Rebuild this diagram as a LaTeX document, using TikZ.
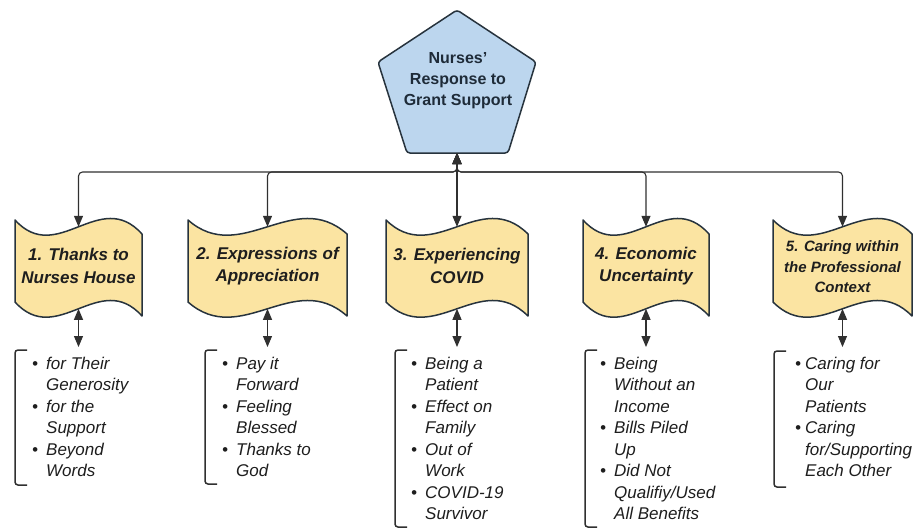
\documentclass[tikz,border=0pt]{standalone}
\usepackage{fontspec}
\setmainfont{Liberation Sans}
\usetikzlibrary{arrows.meta}
\definecolor{penfill}{HTML}{BCD6EE}
\definecolor{edgec}{HTML}{27333D}
\definecolor{tapefill}{HTML}{FBE4A2}
\definecolor{linec}{HTML}{303030}
\definecolor{txt}{HTML}{1E1E1E}
\definecolor{pentxt}{HTML}{1E2B38}
\newlength\bulw
\newcommand\bul{\makebox[\bulw][l]{•}}
\newcommand\tapebox[3]{%
  \filldraw[tape] ({#2},220) .. controls ({#2+#3/3},266.5) and ({#2+2*#3/3},186.9) .. ({#2+#3},234)
    -- ({#2+#3},316) .. controls ({#2+2*#3/3},268.9) and ({#2+#3/3},348.5) .. ({#2},302) -- cycle;
  \coordinate (#1top) at ({#2+#3/2},226.8);
  \coordinate (#1bot) at ({#2+#3/2},308.8);
}
\newcommand\brk[3]{\draw[bracketline] ({#1+12},#2) -- (#1,#2) -- (#1,#3) -- ({#1+12},#3);}
\tikzset{
  pent/.style={draw=edgec, fill=penfill, line width=1.5pt, rounded corners=3pt, line join=round},
  tape/.style={draw=edgec, fill=tapefill, line width=1.5pt, line join=round},
  conn/.style={draw=linec, line width=1.1pt, rounded corners=4pt,
    arrows={Triangle[length=11pt,width=9pt]-Triangle[length=11pt,width=9pt]}},
  bracketline/.style={draw=linec, line width=1.5pt, rounded corners=3pt},
  pentlabel/.style={font=\fontsize{16}{21}\selectfont\bfseries, text=pentxt, align=center, inner sep=0pt},
  boxlabel/.style={font=\fontsize{17}{22.5}\selectfont\bfseries\itshape, text=txt, align=center, inner sep=0pt},
  smallboxlabel/.style={font=\fontsize{15}{20.5}\selectfont\bfseries\itshape, text=txt, align=center, inner sep=0pt},
  listtext/.style={font=\fontsize{17}{21.5}\selectfont\itshape, text=txt, inner sep=0pt, anchor=base west},
}
\begin{document}
\begin{tikzpicture}[x=1pt,y=-1pt]
\useasboundingbox (0,0) rectangle (914,528);
\fill[white] (0,0) rectangle (914,528);

% central pentagon
\filldraw[pent] (457,10) -- (536,62) -- (508,153) -- (407,153) -- (378,62) -- cycle;
\node[pentlabel] (P) at (458,81) {Nurses'\\Response to\\Grant Support};
\coordinate (Pbot) at (457,153);
\coordinate (hub) at (457,172);

% tape boxes
\tapebox{B1}{15}{127}
\tapebox{B2}{188}{159}
\tapebox{B3}{386}{142}
\tapebox{B4}{583}{126}
\tapebox{B5}{773}{139}

\node[boxlabel] (L1) at (78.5,266) {1. Thanks to\\Nurses House};
\node[boxlabel] (L2) at (267.5,266) {2. Expressions of\\Appreciation};
\node[boxlabel] (L3) at (457,266) {3. Experiencing\\COVID};
\node[boxlabel] (L4) at (646,266) {4. Economic\\Uncertainty};
\node[smallboxlabel] (L5) at (842.5,267) {5. Caring within\\the Professional\\Context};

% top connectors
\draw[conn] (Pbot) -- (hub) -| (B1top);
\draw[conn] (Pbot) -- (hub) -| (B2top);
\draw[conn] (Pbot) -- (B3top);
\draw[conn] (Pbot) -- (hub) -| (B4top);
\draw[conn] (Pbot) -- (hub) -| (B5top);

% lower connectors
\coordinate (T1) at (78.5,347);
\coordinate (T2) at (267.5,347);
\coordinate (T3) at (457,347);
\coordinate (T4) at (646,347);
\coordinate (T5) at (842.5,347);
\draw[conn] (B1bot) -- (T1);
\draw[conn] (B2bot) -- (T2);
\draw[conn] (B3bot) -- (T3);
\draw[conn] (B4bot) -- (T4);
\draw[conn] (B5bot) -- (T5);

% brackets
\brk{15}{350}{485}
\brk{205}{350}{484}
\brk{395}{350}{527}
\brk{585}{350}{527}
\brk{774}{351}{487}

% lists
\setlength\bulw{14pt}
\node[listtext] (N1) at (32,369) {\begin{tabular}[t]{@{}l@{}l@{}}
\bul & for Their\\ & Generosity\\ \bul & for the\\ & Support\\ \bul & Beyond\\ & Words\end{tabular}};
\node[listtext] (N2) at (222,369) {\begin{tabular}[t]{@{}l@{}l@{}}
\bul & Pay it\\ & Forward\\ \bul & Feeling\\ & Blessed\\ \bul & Thanks to\\ & God\end{tabular}};
\node[listtext] (N3) at (411,369) {\begin{tabular}[t]{@{}l@{}l@{}}
\bul & Being a\\ & Patient\\ \bul & Effect on\\ & Family\\ \bul & Out of\\ & Work\\ \bul & COVID-19\\ & Survivor\end{tabular}};
\node[listtext] (N4) at (600,369) {\begin{tabular}[t]{@{}l@{}l@{}}
\bul & Being\\ & Without an\\ & Income\\ \bul & Bills Piled\\ & Up\\ \bul & Did Not\\ & Qualifiy/Used\\ & All Benefits\end{tabular}};
\setlength\bulw{10pt}
\node[listtext] (N5) at (795,369) {\begin{tabular}[t]{@{}l@{}l@{}}
\bul & Caring for\\ & Our\\ & Patients\\ \bul & Caring\\ & for/Supporting\\ & Each Other\end{tabular}};
\end{tikzpicture}
\end{document}
